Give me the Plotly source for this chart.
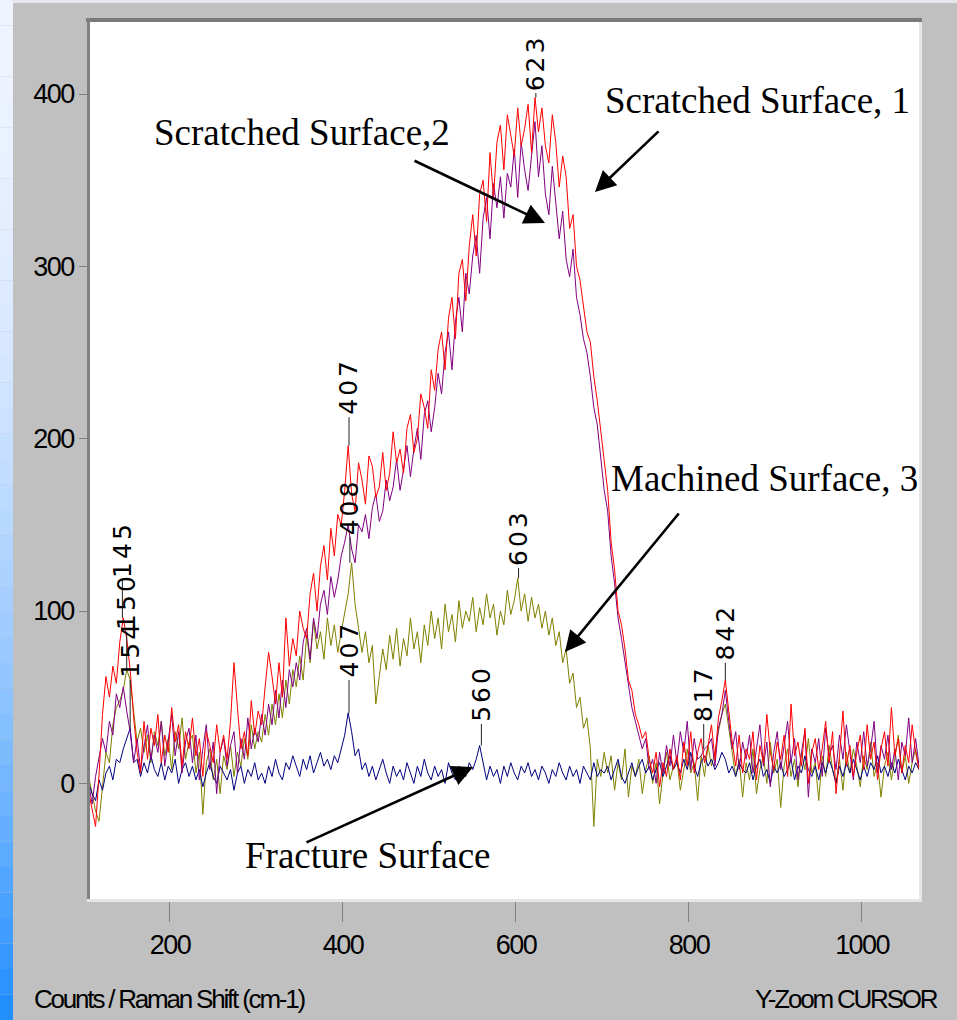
import plotly.graph_objects as go

# ---------------- data ----------------
x_start, x_step = 106, 4   # Raman shift grid (cm-1)

scratched_1 = [
    -5, -15, -25, 5, 40, 62, 50, 68, 58, 82,
    96, 84, 66, 38, 18, 6, 36, 14, 32, 22,
    40, 12, 28, 18, 44, 24, 34, 10, 30, 20,
    38, 16, 26, 4, 30, 22, 12, 34, 18, 28,
    14, 36, 70, 44, 20, 30, 16, 48, 28, 42,
    34, 56, 76, 62, 46, 70, 50, 96, 68, 84,
    74, 100, 90, 84, 110, 122, 100, 126, 138, 118,
    148, 132, 156, 150, 170, 196, 168, 158, 186, 176,
    162, 190, 184, 166, 172, 192, 170, 180, 204, 186,
    194, 180, 206, 214, 192, 200, 226, 218, 206, 240,
    228, 252, 262, 240, 270, 282, 258, 296, 304, 280,
    312, 330, 306, 342, 350, 326, 366, 340, 372, 382,
    356, 388, 376, 364, 392, 370, 380, 394, 366, 398,
    378, 392, 370, 360, 388, 372, 346, 364, 352, 322,
    330, 300, 292, 278, 262, 256, 236, 222, 204, 186,
    170, 140, 124, 100, 92, 78, 60, 54, 40, 34,
    26, 30, 14, 6, 18, -2, 12, 4, 20, 8,
    16, 2, 24, 10, 30, 6, 18, 26, 12, 22,
    34, 14, 38, 48, 60, 42, 24, 10, 28, 6,
    20, 14, 30, 2, 22, 12, 40, 18, 8, 24,
    14, 28, 4, 46, 16, 24, 10, 32, 0, 18,
    26, 8, 20, 36, 12, 30, -6, 16, 42, 10,
    22, 4, 18, 28, 8, 34, 14, 24, 2, 20,
    30, 10, 44, 16, 26, 6, 22, 12, 34, 18,
    8,
]

scratched_2 = [
    0, -12, 4, 16, 26, 18, 36, 28, 52, 44,
    56, 42, 30, 12, 26, 8, 22, 34, 14, 28,
    18, 36, 10, 26, 40, 16, 30, 6, 24, 32,
    12, 28, 2, 20, 34, 8, 24, -6, 18, 26,
    10, 22, 30, 6, 26, 14, 38, 20, 32, 24,
    40, 28, 46, 34, 54, 38, 60, 44, 66, 56,
    70, 60, 82, 90, 72, 96, 84, 104, 112, 98,
    120, 108, 118, 132, 140, 150, 136, 128, 150, 146,
    156, 142, 160, 168, 152, 158, 176, 164, 172, 188,
    170, 182, 196, 178, 194, 206, 188, 214, 222, 204,
    218, 238, 226, 250, 262, 240, 268, 282, 262, 296,
    284, 306, 318, 296, 328, 340, 316, 348, 334, 352,
    328, 354, 346, 368, 340, 372, 356, 344, 366, 384,
    352, 370, 342, 330, 358, 336, 316, 332, 304, 294,
    310, 282, 272, 258, 250, 236, 218, 208, 188, 170,
    158, 132, 116, 96, 84, 70, 56, 44, 36, 28,
    20, 26, 8, 14, 0, 18, 6, 22, 10, 28,
    12, 30, 18, 36, 8, 26, 14, 16, 20, 22,
    26, 10, 32, 40, 54, 36, 20, 30, 8, 24,
    14, 28, 6, 20, 34, 10, 24, -2, 18, 30,
    8, 22, 36, 12, 26, 2, 18, 30, -8, 20,
    12, 26, 4, 32, 16, 22, 8, 28, 14, 34,
    18, 2, 24, 12, 30, 10, 20, 36, 6, 22,
    14, 28, 8, 20, 2, 24, 16, 38, 12, 26,
    10,
]

machined_3 = [
    4, -6, -16, -22, -2, 18, 12, 34, 44, 48,
    54, 66, 60, 42, 24, 32, 18, 28, 12, 30,
    22, 36, 16, 26, 8, 30, 20, 38, 14, 24,
    28, 6, 18, -18, 12, 20, 2, 14, -6, 16,
    8, 22, 4, 18, 10, 26, 14, 34, 20, 30,
    24, 40, 28, 46, 34, 52, 38, 60, 46, 66,
    56, 74, 60, 86, 70, 94, 78, 88, 72, 96,
    80, 92, 76, 88, 98, 110, 128, 104, 90, 76,
    88, 70, 80, 46, 62, 78, 66, 86, 72, 90,
    68, 84, 74, 96, 78, 88, 70, 92, 80, 100,
    84, 96, 78, 104, 88, 98, 82, 106, 90, 100,
    94, 108, 88, 102, 92, 110, 96, 104, 86, 100,
    92, 112, 98, 106, 119, 100, 110, 94, 108, 96,
    104, 90, 100, 86, 96, 80, 88, 70, 78, 58,
    64, 44, 50, 32, 38, 20, -25, 14, 4, 18,
    6, 16, -4, 12, 2, 20, -8, 10, 4, 14,
    -6, 8, 16, 0, 12, -12, 6, 18, 2, 10,
    14, -4, 8, 20, 6, 12, -10, 16, 4, 22,
    10, 18, 30, 40, 46, 32, 18, 4, 14, -8,
    12, 2, 20, -6, 8, 16, 0, 24, 6, 14,
    -14, 10, 20, 4, 14, -2, 18, 8, 26, 6,
    12, -10, 16, 4, 22, 8, 0, 14, -4, 18,
    6, 20, 10, -2, 16, 8, 24, 4, 12, -8,
    10, 18, 2, 14, 28, 6, 16, 0, 12, 20,
    8,
]

fracture = [
    0, -6, -10, 2, -4, 6, 10, 2, 14, 12,
    20, 26, 32, 12, 14, 4, 12, 6, 16, 8,
    4, 12, 2, 10, 6, 14, 0, 8, 12, 4,
    10, 2, 8, -2, 6, 12, 4, 0, 10, 6,
    2, 8, -4, 6, 10, 0, 8, 4, 12, 2,
    6, 0, 10, 4, 14, 6, 2, 12, 8, 16,
    10, 4, 14, 8, 16, 6, 12, 18, 10, 14,
    8, 16, 12, 20, 28, 41, 30, 16, 20, 8,
    12, 4, 10, 2, 8, 14, 6, 0, 10, 4,
    8, 2, 12, 6, 0, 10, 4, 14, 6, 2,
    10, 4, 8, 0, 12, 6, 2, 10, 8, 4,
    12, 8, 14, 22, 12, 2, 10, 4, 8, 0,
    10, 4, 12, 6, 2, 10, 6, 12, 4, 8,
    2, 10, 6, 0, 8, 4, 12, 6, 2, 10,
    4, 8, 0, 10, 6, 2, 12, 4, 8, 6,
    10, 2, 8, 14, 4, 0, 6, 12, 4, 10,
    14, 6, 10, 2, 8, 12, 4, 10, 16, 8,
    12, 6, 14, 8, 18, 10, 4, 12, 16, 10,
    14, 8, 12, 18, 14, 6, 10, 4, 12, 8,
    6, 12, 2, 10, 14, 4, 8, 0, 10, 6,
    12, 4, 8, 14, 2, 10, 6, 16, 8, 4,
    10, 2, 12, 6, 14, 8, 0, 10, 4, 12,
    6, 14, 8, 2, 10, 4, 12, 8, 16, 6,
    10, 4, 12, 6, 14, 8, 2, 10, 6, 12,
    8,
]

x_ticks = [200, 400, 600, 800, 1000]
y_ticks = [0, 100, 200, 300, 400]

# peak markers: label text, series, position, value where the label starts
peak_labels = ["623", "407", "408", "407", "560", "603", "817", "842", "145", "150", "154"]
peak_series = ["s1", "s1", "m3", "fr", "fr", "m3", "s2", "s1", "s1", "m3", "fr"]
peak_shift = [623, 407, 408, 407, 560, 603, 817, 842, 145, 150, 154]
peak_label_base = [400.6, 212.5, 143, 60, 34.5, 125, 34.5, 70, 118, 88, 60]

series_names = ["Scratched Surface, 1", "Scratched Surface,2", "Machined Surface, 3", "Fracture Surface"]

# ---------------- figure ----------------
W, H = 957, 1020
L, R, T, B = 90, 38, 22, 121
PW, PH = W - L - R, H - T - B
X0, X1 = 107.56, 1065.9
Y0, Y1 = -67.1, 441.8


def px_x(p):
    return X0 + (p - L) * (X1 - X0) / PW


def px_y(p):
    return Y1 - (p - T) * (Y1 - Y0) / PH


def pap_x(p):
    return (p - L) / PW


def pap_y(p):
    return (H - B - p) / PH


def shift_axis(vals):
    return [x_start + x_step * i for i in range(len(vals))]


def tight(s, sp):
    return '<span style="letter-spacing:%.1fpx">%s</span>' % (sp, s)


series = {"s1": scratched_1, "s2": scratched_2, "m3": machined_3, "fr": fracture}
colors = {"s1": "#FF0000", "s2": "#800080", "m3": "#808000", "fr": "#000080"}
names = {"s1": series_names[0], "s2": series_names[1], "m3": series_names[2], "fr": series_names[3]}

fig = go.Figure()
for key in ["m3", "fr", "s2", "s1"]:
    vals = series[key]
    fig.add_trace(go.Scatter(
        x=shift_axis(vals), y=vals, mode="lines", name=names[key],
        line=dict(color=colors[key], width=1), showlegend=False,
    ))

shapes = []
annotations = []

# peak label lines and texts
for lab, key, sx, base in zip(peak_labels, peak_series, peak_shift, peak_label_base):
    vals = series[key]
    xs = shift_axis(vals)
    pk = max(v for xv, v in zip(xs, vals) if abs(xv - sx) <= 4)
    shapes.append(dict(type="line", xref="x", yref="y", x0=sx, x1=sx, y0=pk, y1=base,
                       line=dict(color="#222222", width=1)))
    annotations.append(dict(
        x=sx, y=base, xref="x", yref="y", showarrow=False, textangle=-90,
        xanchor="center", yanchor="bottom",
        text=tight(lab, 3),
        font=dict(family="DejaVu Sans", size=25, color="black"),
    ))

# surface captions (Times-like)
serif = dict(family="Liberation Serif, Times New Roman, serif", size=37, color="black")
caption_px = [(757, 100), (302, 132), (764, 478), (368, 855)]
for name, (cx, cy) in zip(series_names, caption_px):
    annotations.append(dict(x=px_x(cx), y=px_y(cy), xref="x", yref="y", text=name,
                            showarrow=False, xanchor="center", yanchor="middle", font=serif))

# pointer arrows (tail -> head), in pixel coordinates
arrows_px = [((660, 130), (595, 192)),
             ((413, 160), (545, 223)),
             ((680, 512), (565, 652)),
             ((305, 843), (473, 767))]
for (tx, ty), (hx, hy) in arrows_px:
    annotations.append(dict(x=px_x(hx), y=px_y(hy), ax=px_x(tx), ay=px_y(ty),
                            xref="x", yref="y", axref="x", ayref="y", text="",
                            showarrow=True, arrowhead=2, arrowsize=1.6, arrowwidth=2.6,
                            arrowcolor="black", standoff=0))

# bottom captions
narrow = "Liberation Sans, Arial, sans-serif"
annotations.append(dict(xref="paper", yref="paper", x=pap_x(32), y=pap_y(999), xanchor="left",
                        yanchor="middle", showarrow=False,
                        text=tight("Counts / Raman Shift (cm-1)", -2.2),
                        font=dict(family=narrow, size=26, color="black")))
annotations.append(dict(xref="paper", yref="paper", x=pap_x(940), y=pap_y(999), xanchor="right",
                        yanchor="middle", showarrow=False, text=tight("Y-Zoom CURSOR", -2.2),
                        font=dict(family=narrow, size=26, color="black")))

# window decoration: left gradient strip and top light strip
n_bands = 40
top_c = (238, 243, 255)
bot_c = (30, 140, 255)
for i in range(n_bands):
    p0 = H * i / n_bands
    p1 = H * (i + 1) / n_bands
    t = ((p0 + p1) / 2) / H
    f = t ** 2
    c = tuple(int(round(a + (b - a) * f)) for a, b in zip(top_c, bot_c))
    shapes.append(dict(type="rect", xref="paper", yref="paper", x0=pap_x(0), x1=pap_x(13),
                       y0=pap_y(p1), y1=pap_y(p0), line=dict(width=0),
                       fillcolor="rgb(%d,%d,%d)" % c, layer="below"))
shapes.append(dict(type="rect", xref="paper", yref="paper", x0=pap_x(13), x1=pap_x(W),
                   y0=pap_y(3), y1=pap_y(0), line=dict(width=0), fillcolor="#E4E6EC", layer="below"))

# sunken plot frame
shapes.append(dict(type="rect", xref="paper", yref="paper", x0=pap_x(86), x1=pap_x(922),
                   y0=pap_y(18), y1=pap_y(22), line=dict(width=0), fillcolor="#7A7A7A", layer="above"))
shapes.append(dict(type="rect", xref="paper", yref="paper", x0=pap_x(87), x1=pap_x(90),
                   y0=pap_y(902), y1=pap_y(18), line=dict(width=0), fillcolor="#808080", layer="above"))
shapes.append(dict(type="rect", xref="paper", yref="paper", x0=pap_x(919), x1=pap_x(922),
                   y0=pap_y(902), y1=pap_y(22), line=dict(width=0), fillcolor="#E6E6E6", layer="above"))
shapes.append(dict(type="rect", xref="paper", yref="paper", x0=pap_x(87), x1=pap_x(922),
                   y0=pap_y(902), y1=pap_y(899), line=dict(width=0), fillcolor="#E6E6E6", layer="above"))

tickfont = dict(family=narrow, size=27, color="black")
fig.update_layout(
    width=W, height=H, autosize=False,
    margin=dict(l=L, r=R, t=T, b=B, pad=0),
    paper_bgcolor="#C0C0C0", plot_bgcolor="white",
    showlegend=False,
    shapes=shapes, annotations=annotations,
    xaxis=dict(range=[X0, X1], tickvals=x_ticks, ticktext=[tight(v, -1.6) for v in x_ticks],
               ticks="outside", ticklen=22, tickwidth=1, tickcolor="#808080",
               showgrid=False, zeroline=False, showline=False, tickfont=tickfont),
    yaxis=dict(range=[Y0, Y1], tickvals=y_ticks, ticktext=[tight(v, -1.6) for v in y_ticks],
               ticks="outside", ticklen=10, tickwidth=1, tickcolor="#808080",
               showgrid=False, zeroline=False, showline=False, tickfont=tickfont),
)

fig.write_html("out.html", config={"displayModeBar": False},
               post_script="document.body.style.margin='0px';")
